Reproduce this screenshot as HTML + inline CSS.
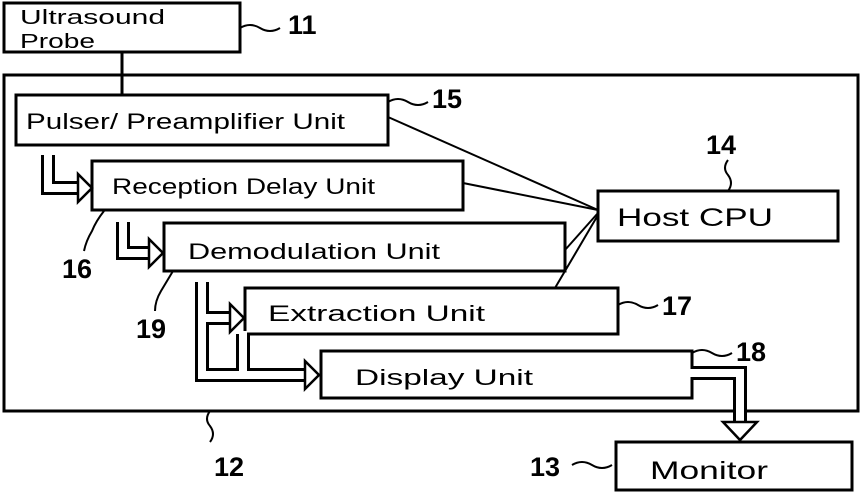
<!DOCTYPE html>
<html><head><style>body{margin:0;background:#fff}svg{display:block}</style></head><body>
<svg width="863" height="493" viewBox="0 0 863 493" xmlns="http://www.w3.org/2000/svg">
<g fill="none" stroke="#000" stroke-width="3">
<rect x="4" y="3" width="236" height="49"/>
<line x1="122" y1="52" x2="122" y2="95"/>
<rect x="4" y="75" width="854" height="336"/>
<rect x="16" y="95" width="372" height="50" fill="#fff"/>
<rect x="92" y="161" width="371" height="49" fill="#fff"/>
<rect x="164" y="223" width="401" height="48" fill="#fff"/>
<rect x="245" y="288" width="373" height="46" fill="#fff"/>
<rect x="321" y="351" width="371" height="47" fill="#fff"/>
<rect x="598" y="191" width="240" height="50" fill="#fff"/>
<rect x="616" y="442" width="236" height="48" fill="#fff"/>
<g stroke-width="2">
<line x1="388" y1="117" x2="598" y2="210"/>
<line x1="463" y1="183" x2="598" y2="210"/>
<line x1="565" y1="250" x2="598" y2="213"/>
<line x1="555" y1="288" x2="598" y2="215"/>
<path d="M240 28 q10 -6 20 0 q10 6 20 0"/>
<path d="M388 102 q10 -6 20 0 q10 6 20 0"/>
<path d="M728 160 q-6 8 0 15 q6 8 0 16"/>
<path d="M104 211 q-8 10 -12 20 q-6 10 -8 20"/>
<path d="M173 271 q-6 10 -12 20 q-6 10 -6 20"/>
<path d="M618 305 q10 -6 20 0 q10 6 20 0"/>
<path d="M692 353 q10 -6 20 0 q10 6 20 0"/>
<path d="M210 411 q-6 8 0 15 q6 8 0 16"/>
<path d="M572 465 q10 -6 20 0 q10 6 20 0"/>
</g>
</g>
<g fill="none" stroke-linejoin="miter">
<g stroke="#000" stroke-width="14">
<path d="M48 155 V188 H80"/>
<path d="M123 222 V253 H150"/>
<path d="M202 282 V375 H305"/>
<path d="M202 318 H232"/>
<path d="M243 334 V375"/>
<path d="M692 373 H740 V425"/>
</g>
<g stroke="#fff" stroke-width="8">
<path d="M48 152 V188 H82"/>
<path d="M123 219 V253 H152"/>
<path d="M202 279 V375 H307"/>
<path d="M205 318 H234"/>
<path d="M243 331 V372"/>
<path d="M690 373 H740 V427"/>
</g>
</g>
<g fill="#fff" stroke="#000" stroke-width="2.5">
<polygon points="78,174 92,188 78,202"/>
<polygon points="149,239 163,253 149,267"/>
<polygon points="230,304 244,318 230,332"/>
<polygon points="305,361 319,375 305,389"/>
<polygon points="723,422 757,422 740,440"/>
</g>
<g font-family="Liberation Sans, sans-serif" font-size="22" fill="#000">
<text x="20" y="24" font-size="20" textLength="145" lengthAdjust="spacingAndGlyphs">Ultrasound</text>
<text x="20" y="48" font-size="20" textLength="75" lengthAdjust="spacingAndGlyphs">Probe</text>
<text x="26" y="129" textLength="319" lengthAdjust="spacingAndGlyphs">Pulser/ Preamplifier Unit</text>
<text x="112" y="194" textLength="263" lengthAdjust="spacingAndGlyphs">Reception Delay  Unit</text>
<text x="188" y="259" textLength="252" lengthAdjust="spacingAndGlyphs">Demodulation  Unit</text>
<text x="268" y="321" textLength="217" lengthAdjust="spacingAndGlyphs">Extraction  Unit</text>
<text x="355" y="385" textLength="178" lengthAdjust="spacingAndGlyphs">Display  Unit</text>
<text x="617" y="226" font-size="25" textLength="156" lengthAdjust="spacingAndGlyphs">Host  CPU</text>
<text x="650" y="479" font-size="25" textLength="118" lengthAdjust="spacingAndGlyphs">Monitor</text>
</g>
<g font-family="Liberation Sans, sans-serif" font-size="27" font-weight="bold" fill="#000">
<text x="288" y="34">11</text>
<text x="432" y="108">15</text>
<text x="706" y="154">14</text>
<text x="62" y="278">16</text>
<text x="136" y="338">19</text>
<text x="662" y="315">17</text>
<text x="736" y="361">18</text>
<text x="214" y="476">12</text>
<text x="530" y="476">13</text>
</g>
</svg>
</body></html>
